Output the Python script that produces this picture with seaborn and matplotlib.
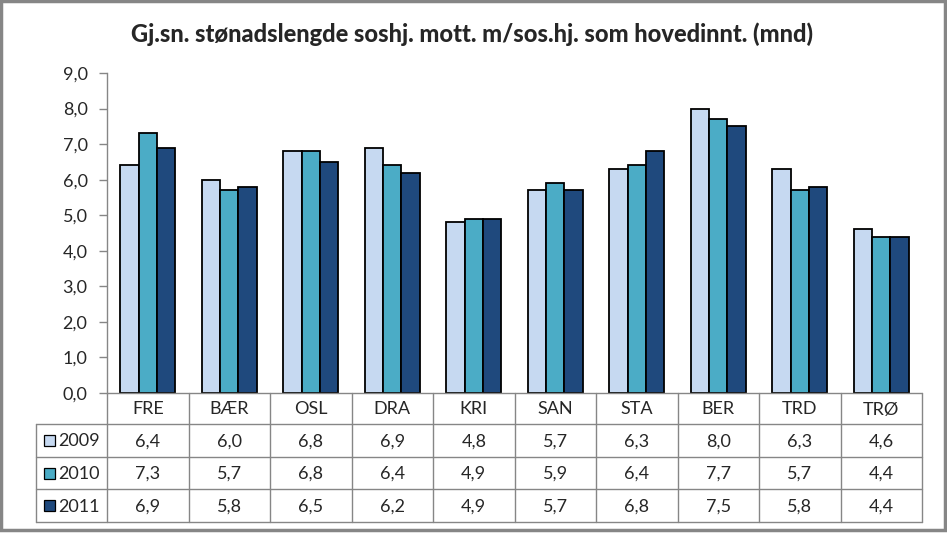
import matplotlib
matplotlib.use("Agg")
import matplotlib.pyplot as plt
import seaborn as sns
import pandas as pd
from matplotlib.patches import Rectangle

categories = ["FRE", "BÆR", "OSL", "DRA", "KRI", "SAN", "STA", "BER", "TRD", "TRØ"]
years = ["2009", "2010", "2011"]
v2009 = [6.4, 6.0, 6.8, 6.9, 4.8, 5.7, 6.3, 8.0, 6.3, 4.6]
v2010 = [7.3, 5.7, 6.8, 6.4, 4.9, 5.9, 6.4, 7.7, 5.7, 4.4]
v2011 = [6.9, 5.8, 6.5, 6.2, 4.9, 5.7, 6.8, 7.5, 5.8, 4.4]
series = [v2009, v2010, v2011]
colors = ["#C6D9F1", "#4BACC6", "#1F497D"]
title = "Gj.sn. stønadslengde soshj. mott. m/sos.hj. som hovedinnt. (mnd)"

df = pd.DataFrame({
    "kat": categories * 3,
    "år": [y for y in years for _ in categories],
    "verdi": v2009 + v2010 + v2011,
})

sns.set_theme(style="white")
plt.rcParams["font.family"] = ["Lato", "DejaVu Sans"]

W, H = 947, 533
fig = plt.figure(figsize=(W / 100, H / 100), dpi=100)

L, R, T, B = 107, 922, 73, 393
ax = fig.add_axes([L / W, 1 - B / H, (R - L) / W, (B - T) / H])
sns.barplot(data=df, x="kat", y="verdi", hue="år", palette=colors, saturation=1,
            width=0.675, edgecolor="black", linewidth=1.3, ax=ax, legend=False)
ax.set_xlim(-0.5, len(categories) - 0.5)
ax.set_ylim(0, 9)
ax.set_yticks([i for i in range(10)])
ax.set_yticklabels([f"{i},0" for i in range(10)], fontsize=13)
ax.tick_params(axis="y", left=True, length=6, width=1, color="#868686", pad=8)
ax.set_xticks([])
ax.set_xlabel("")
ax.set_ylabel("")
for s in ["top", "right", "bottom"]:
    ax.spines[s].set_visible(False)
ax.spines["left"].set_color("#868686")
ax.spines["left"].set_linewidth(1)

# table in pixel coordinates
tax = fig.add_axes([0, 0, 1, 1])
tax.set_xlim(0, W)
tax.set_ylim(H, 0)
tax.axis("off")
gc = "#868686"
rows = [393, 424, 457, 489, 522]
tleft = 36
colw = (R - L) / len(categories)
tax.plot([L, R], [rows[0], rows[0]], color=gc, lw=1)
for y in rows[1:]:
    tax.plot([tleft, R], [y, y], color=gc, lw=1)
tax.plot([tleft, tleft], [rows[1], rows[-1]], color=gc, lw=1)
for i in range(len(categories) + 1):
    x = L + i * colw
    tax.plot([x, x], [rows[0], rows[-1]], color=gc, lw=1)
for i, c in enumerate(categories):
    xc = L + (i + 0.5) * colw
    tax.text(xc, (rows[0] + rows[1]) / 2 + 1, c, ha="center", va="center", fontsize=13)
    for j, s in enumerate(series):
        tax.text(xc, (rows[j + 1] + rows[j + 2]) / 2 + 1, f"{s[i]:.1f}".replace(".", ","),
                 ha="center", va="center", fontsize=13)
for j, y in enumerate(years):
    ym = (rows[j + 1] + rows[j + 2]) / 2
    tax.add_patch(Rectangle((44, ym - 5.5), 11, 11, facecolor=colors[j], edgecolor="black", lw=0.9))
    tax.text(58, ym + 1, y, ha="left", va="center", fontsize=13)

tax.text(472, 34, title, ha="center", va="center", fontsize=17, fontweight="black")

tax.add_patch(Rectangle((1, 1), W - 3, H - 4, facecolor="none", edgecolor="#868686", lw=2.5))

fig.savefig("out.png", dpi=100)
